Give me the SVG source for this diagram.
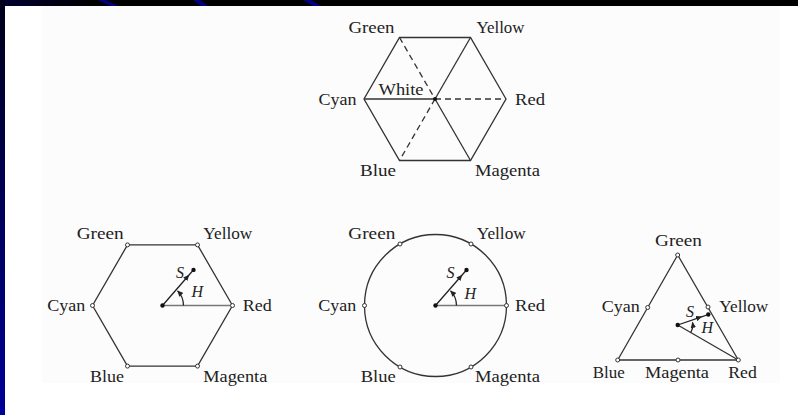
<svg xmlns="http://www.w3.org/2000/svg" width="798" height="415" viewBox="0 0 798 415">
<style>
.lbl{font-family:"Liberation Serif","Times New Roman",serif;font-size:16px;fill:#222}
.it{font-family:"Liberation Serif","Times New Roman",serif;font-size:16px;font-style:italic;fill:#222}
.edge{stroke:#333;stroke-width:1.3;fill:none}
.dash{stroke:#333;stroke-width:1.3;fill:none;stroke-dasharray:6 4}
.ray{stroke:#777;stroke-width:1.7;fill:none}
.vtx{fill:#fff;stroke:#333;stroke-width:1}
.dot{fill:#111}
.sl{stroke:#222;stroke-width:1.3;fill:none}
</style>
<defs>
<linearGradient id="leftband" x1="0" y1="0" x2="0" y2="1">
<stop offset="0" stop-color="#000018"/>
<stop offset="1" stop-color="#000099"/>
</linearGradient>
<linearGradient id="topband" x1="0" y1="0" x2="1" y2="0">
<stop offset="0" stop-color="#000030"/>
<stop offset="0.12" stop-color="#000000"/>
<stop offset="1" stop-color="#000000"/>
</linearGradient>
<marker id="arr" viewBox="0 0 10 10" refX="9" refY="5" markerWidth="6" markerHeight="6" markerUnits="userSpaceOnUse" orient="auto">
<path d="M0,0.5 L10,5 L0,9.5 z" fill="#222"/>
</marker>
</defs>

<!-- background frame -->
<rect x="0" y="0" width="798" height="415" fill="#000"/>
<rect x="0" y="0" width="798" height="6" fill="url(#topband)"/>
<rect x="0" y="0" width="5" height="415" fill="url(#leftband)"/>
<polygon points="98,0 106,0 118,6 110,6" fill="#000080"/>
<polygon points="193,0 200,0 208,6 201,6" fill="#000080"/>
<polygon points="303,0 311,0 321,6 313,6" fill="#000080"/>
<rect x="5" y="6" width="793" height="409" fill="#fff"/>
<rect x="42" y="6" width="738" height="377" fill="#fcfcfc"/>

<!-- Figure 1: top hexagon -->
<g id="fig1">
<g id="fig1-connectors">
<polygon class="edge" points="506,99 470.5,37.5 399.5,37.5 364,99 399.5,160.5 470.5,160.5"/>
<line class="edge" x1="364" y1="99" x2="435" y2="99"/>
<line class="edge" x1="470.5" y1="37.5" x2="435" y2="99"/>
<line class="edge" x1="435" y1="99" x2="470.5" y2="160.5"/>
<line class="dash" x1="399.5" y1="37.5" x2="435" y2="99"/>
<line class="dash" x1="435" y1="99" x2="506" y2="99"/>
<line class="dash" x1="435" y1="99" x2="399.5" y2="160.5"/>
</g>
<g id="fig1-white"><circle class="dot" cx="435" cy="99" r="2"/><text class="lbl" x="378.5" y="95" textLength="45" lengthAdjust="spacingAndGlyphs">White</text></g>
<g id="fig1-green"><text class="lbl" x="348.5" y="33" textLength="46" lengthAdjust="spacingAndGlyphs">Green</text></g>
<g id="fig1-yellow"><text class="lbl" x="476.5" y="33" textLength="48" lengthAdjust="spacingAndGlyphs">Yellow</text></g>
<g id="fig1-cyan"><text class="lbl" x="318.5" y="105" textLength="38" lengthAdjust="spacingAndGlyphs">Cyan</text></g>
<g id="fig1-red"><text class="lbl" x="515" y="105" textLength="30" lengthAdjust="spacingAndGlyphs">Red</text></g>
<g id="fig1-blue"><text class="lbl" x="360" y="176" textLength="36" lengthAdjust="spacingAndGlyphs">Blue</text></g>
<g id="fig1-magenta"><text class="lbl" x="475" y="176" textLength="65" lengthAdjust="spacingAndGlyphs">Magenta</text></g>
</g>

<!-- Figure 2: bottom-left hexagon -->
<g id="fig2">
<g id="fig2-connectors">
<polygon class="edge" points="232.5,305.5 197.5,244.9 127.5,244.9 92.5,305.5 127.5,366.1 197.5,366.1"/>
<line class="ray" x1="162.5" y1="305.5" x2="230.5" y2="305.5"/>
<path class="sl" d="M162.5,305.5 L188.8,275.3 L193.5,269.9" marker-mid="url(#arr)"/>
<path class="sl" d="M183.5,305.5 A21,21 0 0 0 177.6,290.9" marker-end="url(#arr)"/>
</g>
<g id="fig2-center"><circle class="dot" cx="162.5" cy="305.5" r="2.2"/><circle class="dot" cx="193.5" cy="269.9" r="2.2"/>
<text class="it" x="176" y="277.5">S</text><text class="it" x="191.5" y="296.5">H</text></g>
<g id="fig2-green"><circle class="vtx" cx="127.5" cy="244.9" r="2"/><text class="lbl" x="76.7" y="239.3" textLength="47" lengthAdjust="spacingAndGlyphs">Green</text></g>
<g id="fig2-yellow"><circle class="vtx" cx="197.5" cy="244.9" r="2"/><text class="lbl" x="203.3" y="239.3" textLength="49" lengthAdjust="spacingAndGlyphs">Yellow</text></g>
<g id="fig2-cyan"><circle class="vtx" cx="92.5" cy="305.5" r="2"/><text class="lbl" x="47.3" y="311" textLength="38" lengthAdjust="spacingAndGlyphs">Cyan</text></g>
<g id="fig2-red"><circle class="vtx" cx="232.5" cy="305.5" r="2"/><text class="lbl" x="242.7" y="311" textLength="29" lengthAdjust="spacingAndGlyphs">Red</text></g>
<g id="fig2-blue"><circle class="vtx" cx="127.5" cy="366.1" r="2"/><text class="lbl" x="90" y="381.5" textLength="34" lengthAdjust="spacingAndGlyphs">Blue</text></g>
<g id="fig2-magenta"><circle class="vtx" cx="197.5" cy="366.1" r="2"/><text class="lbl" x="203.3" y="381.5" textLength="64" lengthAdjust="spacingAndGlyphs">Magenta</text></g>
</g>

<!-- Figure 3: circle -->
<g id="fig3">
<g id="fig3-connectors">
<circle class="edge" cx="435.5" cy="305.5" r="71"/>
<line class="ray" x1="435.5" y1="305.5" x2="504.5" y2="305.5"/>
<path class="sl" d="M435.5,305.5 L461.9,275.3 L466.5,270" marker-mid="url(#arr)"/>
<path class="sl" d="M456.5,305.5 A21,21 0 0 0 450.6,290.9" marker-end="url(#arr)"/>
</g>
<g id="fig3-center"><circle class="dot" cx="435.5" cy="305.5" r="2.2"/><circle class="dot" cx="466.5" cy="270" r="2.2"/>
<text class="it" x="446.5" y="277.5">S</text><text class="it" x="464.5" y="298.5">H</text></g>
<g id="fig3-green"><circle class="vtx" cx="400" cy="244" r="2"/><text class="lbl" x="348.3" y="239.3" textLength="47" lengthAdjust="spacingAndGlyphs">Green</text></g>
<g id="fig3-yellow"><circle class="vtx" cx="471" cy="244" r="2"/><text class="lbl" x="476.7" y="239.3" textLength="49" lengthAdjust="spacingAndGlyphs">Yellow</text></g>
<g id="fig3-cyan"><circle class="vtx" cx="364.5" cy="305.5" r="2"/><text class="lbl" x="318.3" y="311" textLength="38" lengthAdjust="spacingAndGlyphs">Cyan</text></g>
<g id="fig3-red"><circle class="vtx" cx="506.5" cy="305.5" r="2"/><text class="lbl" x="515" y="311" textLength="30" lengthAdjust="spacingAndGlyphs">Red</text></g>
<g id="fig3-blue"><circle class="vtx" cx="400" cy="367" r="2"/><text class="lbl" x="360.7" y="381.5" textLength="35" lengthAdjust="spacingAndGlyphs">Blue</text></g>
<g id="fig3-magenta"><circle class="vtx" cx="471" cy="367" r="2"/><text class="lbl" x="475" y="381.5" textLength="65" lengthAdjust="spacingAndGlyphs">Magenta</text></g>
</g>

<!-- Figure 4: triangle -->
<g id="fig4">
<g id="fig4-connectors">
<polygon class="edge" points="677.7,255 617.7,360 738.3,360"/>
<line class="edge" x1="677.7" y1="325" x2="738.3" y2="360"/>
<path class="sl" d="M677.7,325 L701.5,316.8 L708.3,314.5" marker-mid="url(#arr)"/>
<path class="sl" d="M690.7,332.5 A15,15 0 0 0 692.5,322.4" marker-end="url(#arr)"/>
</g>
<g id="fig4-center"><circle class="dot" cx="677.7" cy="325" r="2.2"/><circle class="dot" cx="708.3" cy="314.5" r="2.2"/>
<text class="it" x="686" y="317">S</text><text class="it" x="701.5" y="333">H</text></g>
<g id="fig4-green"><circle class="vtx" cx="677.7" cy="255" r="2"/><text class="lbl" x="655" y="246" textLength="47" lengthAdjust="spacingAndGlyphs">Green</text></g>
<g id="fig4-cyan"><circle class="vtx" cx="647.7" cy="307.5" r="2"/><text class="lbl" x="601.7" y="311.7" textLength="38" lengthAdjust="spacingAndGlyphs">Cyan</text></g>
<g id="fig4-yellow"><circle class="vtx" cx="708" cy="307" r="2"/><text class="lbl" x="719.3" y="311.7" textLength="49" lengthAdjust="spacingAndGlyphs">Yellow</text></g>
<g id="fig4-blue"><circle class="vtx" cx="617.7" cy="360" r="2"/><text class="lbl" x="592.7" y="378.3" textLength="32" lengthAdjust="spacingAndGlyphs">Blue</text></g>
<g id="fig4-magenta"><circle class="vtx" cx="678" cy="360" r="2"/><text class="lbl" x="645" y="378.3" textLength="64" lengthAdjust="spacingAndGlyphs">Magenta</text></g>
<g id="fig4-red"><circle class="vtx" cx="738.3" cy="360" r="2"/><text class="lbl" x="728.3" y="378.3" textLength="28.5" lengthAdjust="spacingAndGlyphs">Red</text></g>
</g>
</svg>
